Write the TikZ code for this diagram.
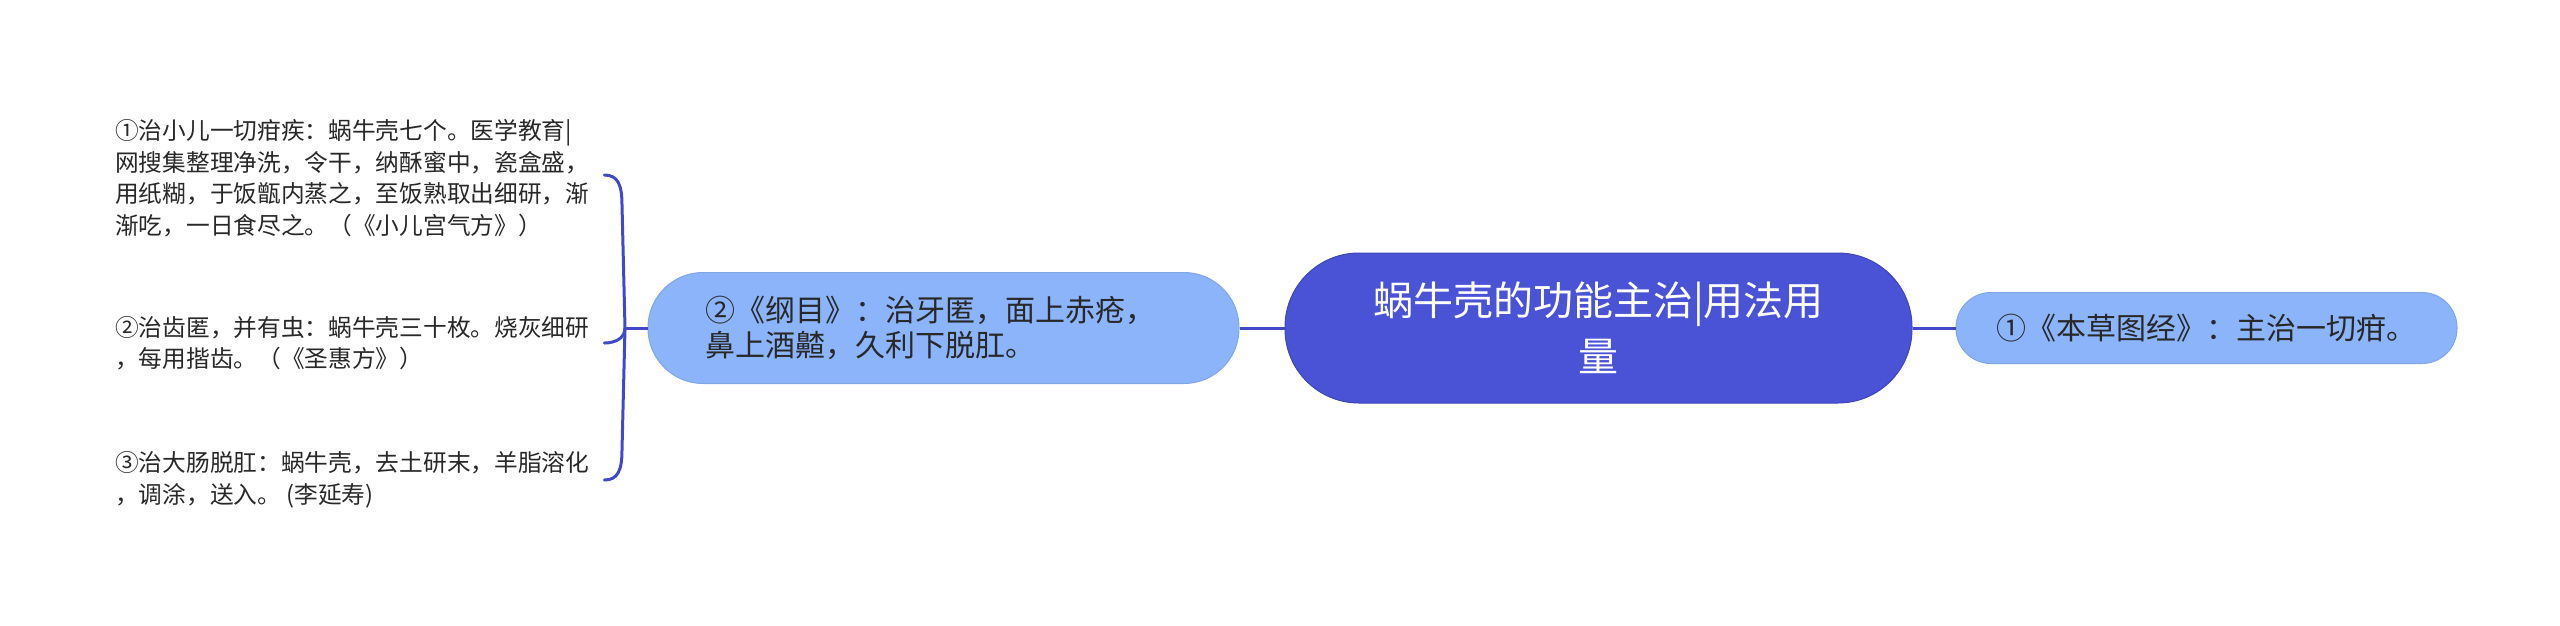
\documentclass[tikz,border=0pt]{standalone}
\usepackage{fontspec}
\setmainfont{Noto Sans CJK SC}
\definecolor{hub}{RGB}{74,82,214}
\definecolor{leaf}{RGB}{140,180,250}
\definecolor{wire}{RGB}{66,72,200}
\definecolor{ink}{RGB}{40,40,40}
\begin{document}
\begin{tikzpicture}[x=1pt, y=-1pt,
  topic/.style={fill=hub, draw=hub!85!black, line width=1pt, align=center, text=white, font=\fontsize{40}{56}\selectfont},
  sub/.style={fill=leaf, draw=leaf!92!black, line width=1pt, text=ink, font=\fontsize{30}{35}\selectfont},
  note/.style={anchor=west, inner sep=0pt, align=left, text=ink, font=\fontsize{23.7}{31.5}\selectfont},
  link/.style={wire, line width=3pt}]
\useasboundingbox (0,0) rectangle (2560,625);

\node (main) [topic, minimum width=627pt, minimum height=150pt, rounded corners=74pt] at (1598.5,328) {蜗牛壳的功能主治|用法用\\量};
\node (tujing) [sub, minimum width=501pt, minimum height=71pt, rounded corners=35pt, align=center] at (2206.5,328) {①《本草图经》：主治一切疳。};
\node (gangmu) [sub, minimum width=591pt, minimum height=111pt, rounded corners=55pt, text width=477pt, align=left] at (943.5,328) {②《纲目》：治牙匿，面上赤疮，\\鼻上酒齄，久利下脱肛。};

\node (fang1) [note] at (115,178) {①治小儿一切疳疾：蜗牛壳七个。医学教育|\\网搜集整理净洗，令干，纳酥蜜中，瓷盒盛，\\用纸糊，于饭甑内蒸之，至饭熟取出细研，渐\\渐吃，一日食尽之。（《小儿宫气方》）};
\node (fang2) [note] at (115,343) {②治齿匿，并有虫：蜗牛壳三十枚。烧灰细研\\，每用揩齿。（《圣惠方》）};
\node (fang3) [note] at (115,480) {③治大肠脱肛：蜗牛壳，去土研末，羊脂溶化\\，调涂，送入。 (李延寿)};

\coordinate (fork) at (625,328);

\draw [link] (main.east) -- (tujing.west);
\draw [link] (main.west) -- (gangmu.east);
\draw [link] (fork) -- (gangmu.west);

\draw [link, line cap=round] ([xshift=15pt]fang1.east |- 0,175) .. controls (618,175) and (622,185) .. (622,205) -- (fork) -- (622,450) .. controls (622,470) and (618,480) .. ([xshift=15pt]fang3.east |- 0,480);
\draw [link, line cap=round] (fork) .. controls (625,337) and (617,343) .. ([xshift=15pt]fang2.east);
\end{tikzpicture}
\end{document}
